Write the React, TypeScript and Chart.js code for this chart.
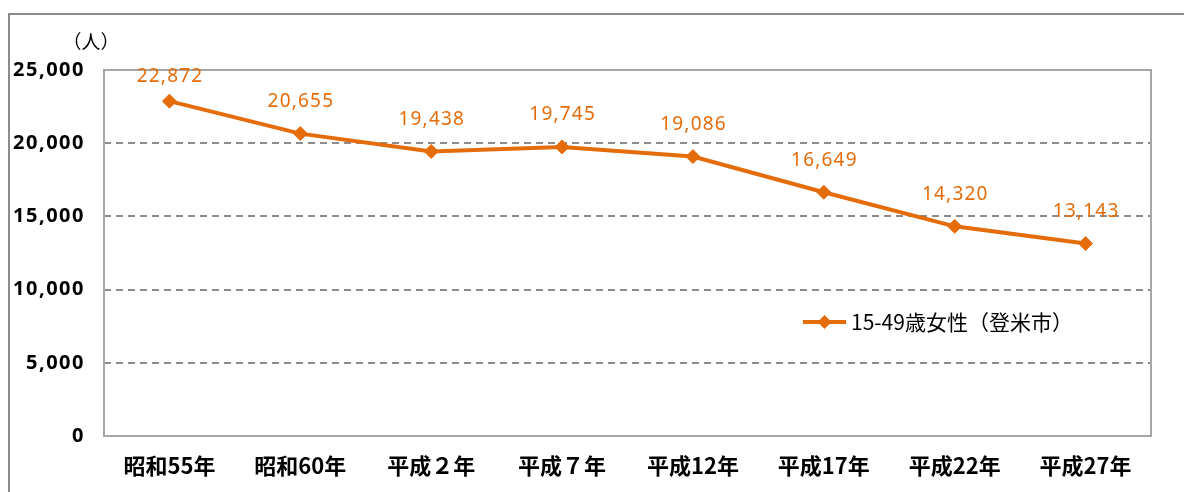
import React, { useEffect, useRef } from "react";
import { Chart, registerables } from "chart.js";

Chart.register(...registerables);

const categories = ["昭和55年", "昭和60年", "平成２年", "平成７年", "平成12年", "平成17年", "平成22年", "平成27年"];
const womenValues = [22872, 20655, 19438, 19745, 19086, 16649, 14320, 13143];
const seriesName = "15-49歳女性（登米市）";
const unitLabel = "（人）";
const yTicks = [0, 5000, 10000, 15000, 20000, 25000];

const ORANGE = "#E46C0A";

const fmt = (v: number) => v.toLocaleString("en-US");

const decorPlugin = {
  id: "decor",
  beforeDatasetsDraw(chart: any) {
    const { ctx, chartArea } = chart;
    ctx.save();
    // plot frame
    ctx.strokeStyle = "#a6a6a6";
    ctx.lineWidth = 2;
    ctx.strokeRect(chartArea.left, chartArea.top, chartArea.right - chartArea.left, chartArea.bottom - chartArea.top);
    // outer border
    ctx.strokeStyle = "#8c8c8c";
    ctx.lineWidth = 2;
    ctx.beginPath();
    ctx.moveTo(9, 492);
    ctx.lineTo(9, 14);
    ctx.lineTo(1184, 14);
    ctx.stroke();
    // unit label
    ctx.fillStyle = "#000";
    ctx.font = '19px "Noto Sans CJK JP"';
    ctx.textAlign = "center";
    ctx.textBaseline = "middle";
    ctx.fillText(unitLabel, 91, 42);
    // y tick labels, positioned by the y scale
    const ys = chart.scales.y;
    ctx.font = 'bold 20px "Noto Sans"';
    (ctx as any).letterSpacing = "1.5px";
    ctx.textAlign = "right";
    ys.ticks.forEach((t: any) => {
      ctx.fillText(fmt(t.value), 85, ys.getPixelForValue(t.value));
    });
    ctx.restore();
  },
  afterDatasetsDraw(chart: any) {
    const { ctx, chartArea } = chart;
    const meta = chart.getDatasetMeta(0);
    ctx.save();
    ctx.fillStyle = ORANGE;
    ctx.font = '19px "Noto Sans"';
    (ctx as any).letterSpacing = "1.2px";
    ctx.textAlign = "center";
    ctx.textBaseline = "middle";
    meta.data.forEach((pt: any, i: number) => {
      const y = Math.max(pt.y - 32, chartArea.top + 7);
      ctx.fillText(fmt(womenValues[i]), pt.x + 0.6, y);
    });
    (ctx as any).letterSpacing = "0px";
    // legend
    const lx1 = 803, lx2 = 846, ly = 322;
    ctx.strokeStyle = ORANGE;
    ctx.lineWidth = 4;
    ctx.beginPath();
    ctx.moveTo(lx1, ly);
    ctx.lineTo(lx2, ly);
    ctx.stroke();
    const cx = (lx1 + lx2) / 2;
    ctx.beginPath();
    ctx.moveTo(cx, ly - 7);
    ctx.lineTo(cx + 7, ly);
    ctx.lineTo(cx, ly + 7);
    ctx.lineTo(cx - 7, ly);
    ctx.closePath();
    ctx.fill();
    ctx.fillStyle = "#000";
    ctx.font = '21px "Noto Sans CJK JP"';
    ctx.textAlign = "left";
    ctx.fillText(seriesName, 851, ly);
    ctx.restore();
  },
};

export default function App() {
  const ref = useRef<HTMLCanvasElement>(null);
  useEffect(() => {
    if (!ref.current) return;
    const chart = new Chart(ref.current, {
      type: "line",
      data: {
        labels: categories,
        datasets: [
          {
            label: seriesName,
            data: womenValues,
            borderColor: ORANGE,
            backgroundColor: ORANGE,
            borderWidth: 4,
            pointStyle: "rectRot",
            pointRadius: 7,
            pointBackgroundColor: ORANGE,
            pointBorderColor: ORANGE,
            pointBorderWidth: 1,
            tension: 0,
            fill: false,
          },
        ],
      },
      options: {
        animation: false,
        responsive: false,
        maintainAspectRatio: false,
        layout: { padding: { left: 0, top: 70, right: 33, bottom: 0 } },
        plugins: {
          legend: { display: false },
          tooltip: { enabled: false },
          title: { display: false },
        },
        scales: {
          x: {
            offset: true,
            grid: { display: false, drawTicks: false },
            border: { display: false },
            ticks: {
              color: "#000",
              padding: 16,
              maxRotation: 0,
              autoSkip: false,
              font: { family: '"Noto Sans CJK JP"', size: 22, weight: "bold" },
            },
            afterFit: (s: any) => {
              s.height = 56;
            },
          },
          y: {
            min: 0,
            max: 25000,
            afterBuildTicks: (s: any) => {
              s.ticks = yTicks.map((v) => ({ value: v }));
            },
            grid: {
              drawTicks: false,
              color: (c: any) => (c.tick && (c.tick.value === 0 || c.tick.value === 25000) ? "rgba(0,0,0,0)" : "#8c8c8c"),
              lineWidth: 2,
            },
            border: { display: false, dash: [7, 5] },
            ticks: {
              display: false,
            },
            afterFit: (s: any) => {
              s.width = 104;
            },
          },
        },
      },
      plugins: [decorPlugin],
    });
    return () => chart.destroy();
  }, []);
  return (
    <div style={{ position: "absolute", left: 0, top: 0, width: 1184, height: 492, background: "#fff" }}>
      <canvas ref={ref} width={1184} height={492} style={{ width: 1184, height: 492, display: "block" }} />
    </div>
  );
}
